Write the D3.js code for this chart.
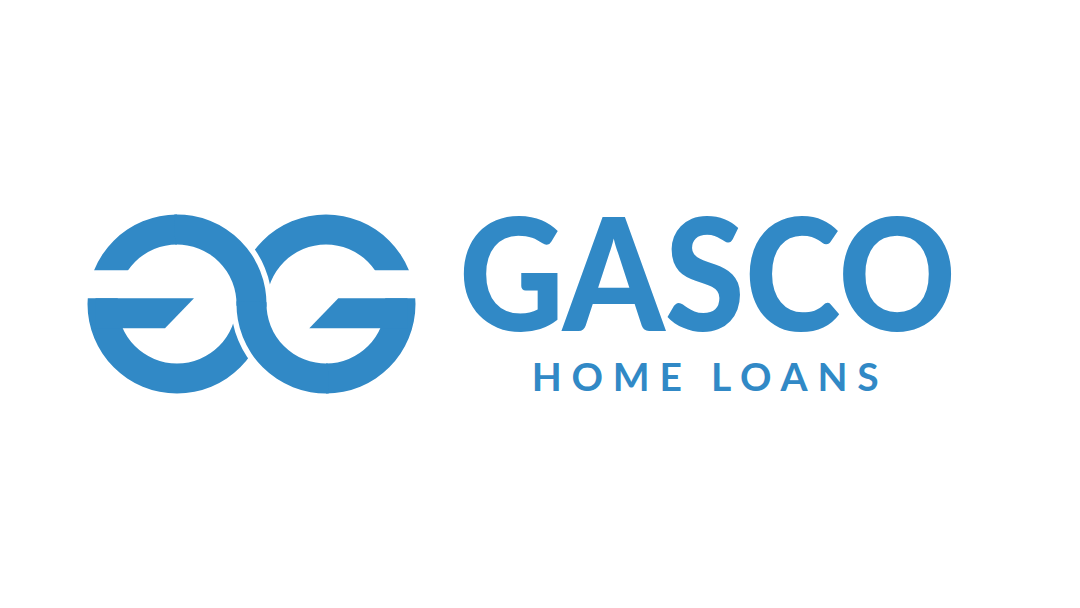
<!DOCTYPE html>
<html>
<head>
<meta charset="utf-8">
<script src="https://cdn.jsdelivr.net/npm/d3@7"></script>
<style>
  html, body { margin: 0; padding: 0; background: #fff; }
  svg { display: block; }
</style>
</head>
<body>
<svg id="logo" width="1080" height="608"></svg>
<script>
// brand texts
var brandName = ["GASCO"];
var tagline = ["HOME", "LOANS"];
// the two interlocking G rings: which way each one opens
var rings = ["left", "right"];

var BLUE = "#3189c6";

var svg = d3.select("#logo");
var width = +svg.attr("width"),
    height = +svg.attr("height");

// ring geometry
var cy = 304,
    outerR = 89.5,
    innerR = 59.5,
    gap = 5.5,
    cutY = 270.3,
    barTop = 298.3,
    barBot = 328.3;

var centerX = d3.scaleOrdinal().domain(rings).range([177, 326]);

var ringArc = d3.arc().innerRadius(innerR).outerRadius(outerR);
var haloArc = d3.arc().innerRadius(innerR - gap).outerRadius(outerR + gap);

var defs = svg.append("defs");

rings.forEach(function(side) {
  var cx = centerX(side);
  var clip = defs.append("clipPath").attr("id", "clip-" + side);
  clip.append("rect").attr("x", 0).attr("y", 0).attr("width", width).attr("height", cutY);
  clip.append("rect").attr("x", 0).attr("y", barTop).attr("width", width).attr("height", height - barTop);
  if (side == "left") {
    clip.append("rect").attr("x", cx).attr("y", 0).attr("width", width - cx).attr("height", height);
  } else {
    clip.append("rect").attr("x", 0).attr("y", 0).attr("width", cx).attr("height", height);
  }
});

var mark = svg.append("g").attr("class", "mark");

// full rings with the G opening cut out
rings.forEach(function(side) {
  var cx = centerX(side);
  mark.append("g")
      .attr("clip-path", "url(#clip-" + side + ")")
    .append("path")
      .attr("transform", "translate(" + cx + "," + cy + ")")
      .attr("d", ringArc({startAngle: 0, endAngle: 2 * Math.PI}))
      .attr("fill", BLUE);

  var pts;
  if (side == "left") {
    pts = [[cx - outerR + 8, barTop], [cx + 17, barTop], [cx - 12, barBot], [cx - outerR + 8, barBot]];
  } else {
    pts = [[cx + outerR - 8, barTop], [cx + 12.3, barTop], [cx - 16.7, barBot], [cx + outerR - 8, barBot]];
  }
  mark.append("path")
      .attr("d", d3.line()(pts) + "Z")
      .attr("fill", BLUE);
});

// the S stroke that passes over: left ring top-right + right ring bottom-left
var overParts = [
  {side: "left", start: 0, end: Math.PI / 2},
  {side: "right", start: Math.PI, end: 3 * Math.PI / 2}
];

overParts.forEach(function(p) {
  mark.append("path")
      .attr("transform", "translate(" + centerX(p.side) + "," + cy + ")")
      .attr("d", haloArc({startAngle: p.start, endAngle: p.end}))
      .attr("fill", "#fff");
});

overParts.forEach(function(p) {
  mark.append("path")
      .attr("transform", "translate(" + centerX(p.side) + "," + cy + ")")
      .attr("d", ringArc({startAngle: p.start - 0.03, endAngle: p.end + 0.03}))
      .attr("fill", BLUE);
});

// wordmark
svg.append("text")
    .attr("x", 459)
    .attr("y", 331)
    .attr("font-family", "Lato, 'Open Sans', sans-serif")
    .attr("font-weight", 900)
    .attr("font-size", 156)
    .attr("fill", BLUE)
    .attr("textLength", 497)
    .attr("lengthAdjust", "spacingAndGlyphs")
    .text(brandName[0]);

svg.append("text")
    .attr("x", 531.7)
    .attr("y", 390.7)
    .attr("font-family", "Lato, 'Open Sans', sans-serif")
    .attr("font-weight", 700)
    .attr("font-size", 39)
    .attr("fill", BLUE)
    .attr("textLength", 347)
    .attr("lengthAdjust", "spacing")
    .text(tagline.join(" "));
</script>
</body>
</html>
